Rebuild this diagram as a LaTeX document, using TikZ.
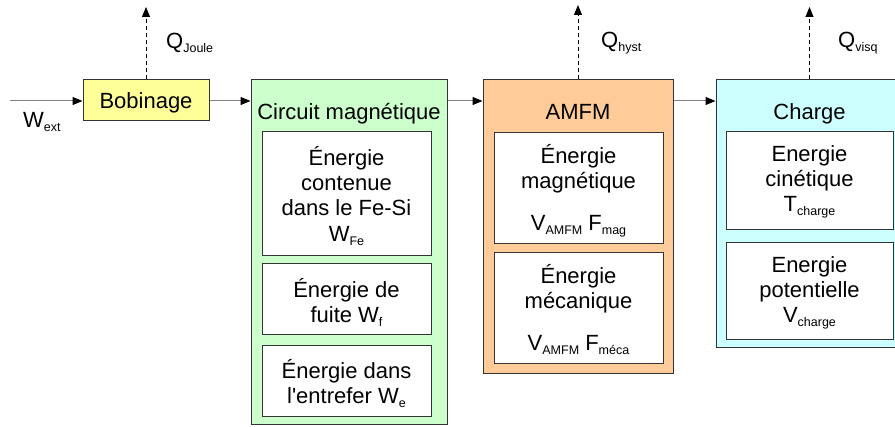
\documentclass[tikz,border=0pt]{standalone}
\usepackage{fontspec}
\setmainfont{Liberation Sans}[Ligatures=TeXOff]
\usetikzlibrary{arrows.meta,calc}
\newcommand\sbs[1]{\raisebox{-4pt}{\fontsize{12.5}{13}\selectfont #1}}
\definecolor{bobfill}{HTML}{FFFF99}
\definecolor{circfill}{HTML}{CCFFCC}
\definecolor{amfmfill}{HTML}{FFCC99}
\definecolor{chargefill}{HTML}{CCFFFF}
\definecolor{edge}{HTML}{333333}
\definecolor{flowline}{HTML}{808080}
\begin{document}
\begin{tikzpicture}[x=1pt,y=-1pt,
  every node/.style={font=\fontsize{22}{25.3}\selectfont, inner sep=0pt},
  outerbox/.style={draw=edge, line width=1pt},
  innerbox/.style={draw=edge, fill=white, line width=1pt},
  flow/.style={draw=flowline, line width=1pt, -{Triangle[length=10pt,width=8pt,black]}},
  heat/.style={draw=black, line width=0.9pt, dash pattern=on 4pt off 3pt, -{Triangle[length=10pt,width=8pt,black]}},
  lbl/.style={anchor=base west},
  ttl/.style={anchor=base},
  intext/.style={anchor=north, align=center}]
\useasboundingbox (0,0) rectangle (895,427);

% outer boxes
\node[outerbox, fill=bobfill, minimum width=126pt, minimum height=41pt, text height=16pt, text depth=0pt] (bob) at (146,100.5) {Bobinage};
\node[outerbox, fill=circfill, minimum width=196pt, minimum height=345pt] (circ) at (349,252.5) {};
\node[outerbox, fill=amfmfill, minimum width=190pt, minimum height=294pt] (amfm) at (578,227) {};
\node[outerbox, fill=chargefill, minimum width=187pt, minimum height=268pt] (charge) at (809.5,214) {};

% titles
\node[ttl] (circt) at (349,120) {Circuit magnétique};
\node[ttl] (amfmt) at (578,120) {AMFM};
\node[ttl] (charget) at (809.5,120) {Charge};

% inner boxes
\node[innerbox, minimum width=169pt, minimum height=124pt] (c1) at (346.5,194) {};
\node[innerbox, minimum width=169pt, minimum height=71pt] (c2) at (346.5,299.5) {};
\node[innerbox, minimum width=169pt, minimum height=71pt] (c3) at (346.5,381.5) {};
\node[innerbox, minimum width=169pt, minimum height=111pt] (a1) at (578.5,188.5) {};
\node[innerbox, minimum width=169pt, minimum height=111pt] (a2) at (578.5,308.5) {};
\node[innerbox, minimum width=167pt, minimum height=98pt] (h1) at (809.5,181) {};
\node[innerbox, minimum width=167pt, minimum height=97pt] (h2) at (809.5,291.5) {};

% inner texts
\node[intext] (c1t) at (346.5,143) {\rule{0pt}{22pt}Énergie\\contenue\\dans le Fe-Si\\W\sbs{Fe}};
\node[intext] (c2t) at (346.5,275) {\rule{0pt}{22pt}Énergie de\\fuite W\sbs{f}};
\node[intext] (c3t) at (346.5,356) {\rule{0pt}{22pt}Énergie dans\\l'entrefer W\sbs{e}};
\node[intext] (a1t) at (578.5,141) {\rule{0pt}{22pt}Énergie\\magnétique\\[16.7pt]V\sbs{AMFM} F\sbs{mag}};
\node[intext] (a2t) at (578.5,261) {\rule{0pt}{22pt}Énergie\\mécanique\\[16.7pt]V\sbs{AMFM} F\sbs{méca}};
\node[intext] (h1t) at (809.5,139) {\rule{0pt}{22pt}Energie\\cinétique\\T\sbs{charge}};
\node[intext] (h2t) at (809.5,250) {\rule{0pt}{22pt}Energie\\potentielle\\V\sbs{charge}};

% flow arrows
\coordinate (win) at (10,101);
\draw[flow] (win) -- (win -| bob.west);
\draw[flow] (win -| bob.east) -- (win -| circ.west);
\draw[flow] (win -| circ.east) -- (win -| amfm.west);
\draw[flow] (win -| amfm.east) -- (win -| charge.west);

% heat arrows
\coordinate (qj) at (146,7);
\coordinate (qh) at (578,5);
\coordinate (qv) at (809.5,7);
\draw[heat] (bob.north) -- (qj);
\draw[heat] (amfm.north) -- (qh);
\draw[heat] (charge.north) -- (qv);

% labels
\node[lbl] (lqj) at (166,49) {Q\sbs{Joule}};
\node[lbl] (lqh) at (601,48) {Q\sbs{hyst}};
\node[lbl] (lqv) at (838,48) {Q\sbs{visq}};
\node[lbl] (lw) at (23,128) {W\sbs{ext}};
\end{tikzpicture}
\end{document}
